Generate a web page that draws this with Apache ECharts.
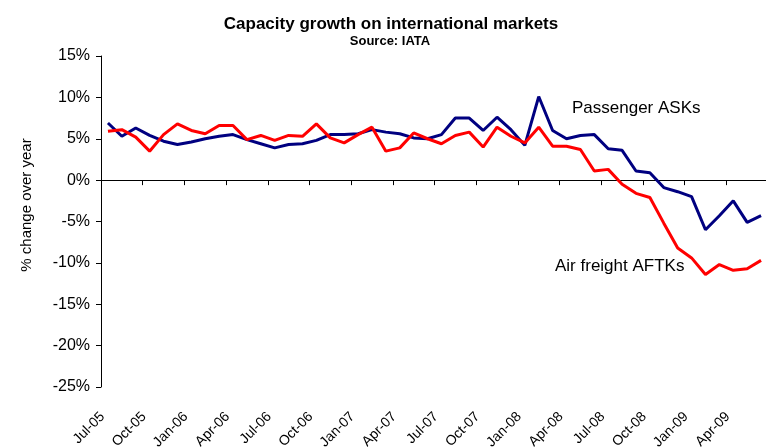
<!DOCTYPE html>
<html>
<head>
<meta charset="utf-8">
<script src="https://cdn.jsdelivr.net/npm/echarts@6/dist/echarts.min.js"></script>
<style>html,body{margin:0;padding:0;background:#fff}#c{width:766px;height:448px}</style>
</head>
<body>
<div id="c"></div>
<script>
var months = ['Jul-05','Aug-05','Sep-05','Oct-05','Nov-05','Dec-05','Jan-06','Feb-06','Mar-06','Apr-06','May-06','Jun-06',
'Jul-06','Aug-06','Sep-06','Oct-06','Nov-06','Dec-06','Jan-07','Feb-07','Mar-07','Apr-07','May-07','Jun-07',
'Jul-07','Aug-07','Sep-07','Oct-07','Nov-07','Dec-07','Jan-08','Feb-08','Mar-08','Apr-08','May-08','Jun-08',
'Jul-08','Aug-08','Sep-08','Oct-08','Nov-08','Dec-08','Jan-09','Feb-09','Mar-09','Apr-09','May-09','Jun-09'];
var passengerASKs = [6.9,5.3,6.3,5.4,4.7,4.3,4.6,5.0,5.3,5.5,4.9,4.4,
3.9,4.3,4.4,4.8,5.5,5.5,5.6,6.1,5.8,5.6,5.1,5.0,
5.5,7.5,7.5,6.0,7.6,6.1,4.2,10.1,6.0,5.0,5.4,5.5,
3.8,3.6,1.1,0.9,-0.9,-1.4,-2.0,-6.0,-4.3,-2.5,-5.1,-4.3];
var airFreightAFTKs = [5.9,6.1,5.2,3.5,5.5,6.8,6.0,5.6,6.6,6.6,4.9,5.4,
4.8,5.4,5.3,6.8,5.1,4.5,5.5,6.4,3.5,3.9,5.7,5.0,
4.4,5.4,5.8,4.0,6.4,5.3,4.5,6.4,4.1,4.1,3.7,1.1,
1.3,-0.5,-1.6,-2.1,-5.2,-8.2,-9.4,-11.4,-10.2,-10.9,-10.7,-9.7];
var yTicks = {min:-25, max:15, interval:5};

var FONT = '"Liberation Sans", Arial, sans-serif';
var chart = echarts.init(document.getElementById('c'), null, {renderer:'canvas'});
chart.setOption({
  animation:false,
  backgroundColor:'#fff',
  title:[
    {text:'Capacity growth on international markets', left:386, top:11, textAlign:'center',
     textStyle:{fontFamily:FONT, fontSize:17, fontWeight:'bold', color:'#000'}},
    {text:'Source: IATA', left:385, top:30, textAlign:'center',
     textStyle:{fontFamily:FONT, fontSize:13, fontWeight:'bold', color:'#000'}}
  ],
  grid:{left:101, right:-2, top:56, bottom:61, containLabel:false, outerBoundsMode:'none'},
  xAxis:[
    {type:'category', data:months, boundaryGap:true, position:'bottom',
     axisLine:{show:false, onZero:false}, axisTick:{show:false},
     axisLabel:{interval:2, rotate:45, margin:22, formatter:function(v){return v + '  ';},
       fontFamily:FONT, fontSize:14, color:'#000'}},
    {type:'category', data:months, boundaryGap:true, position:'bottom',
     axisLine:{show:true, onZero:true, lineStyle:{color:'#000', width:1}},
     axisTick:{show:true, interval:2, length:5, inside:false, lineStyle:{color:'#000'}},
     axisLabel:{show:false}}
  ],
  yAxis:{type:'value', min:yTicks.min, max:yTicks.max, interval:yTicks.interval,
    axisLine:{show:true, lineStyle:{color:'#000', width:1}},
    axisTick:{show:true, length:5, lineStyle:{color:'#000'}},
    axisLabel:{margin:11, formatter:'{value}%', fontFamily:FONT, fontSize:16, color:'#000'},
    splitLine:{show:false}},
  series:[
    {name:'Passenger ASKs', type:'line', data:passengerASKs, xAxisIndex:0, symbol:'none',
     lineStyle:{color:'#000080', width:3}, itemStyle:{color:'#000080'}},
    {name:'Air freight AFTKs', type:'line', data:airFreightAFTKs, xAxisIndex:0, symbol:'none',
     lineStyle:{color:'#ff0000', width:3}, itemStyle:{color:'#ff0000'}}
  ],
  graphic:[
    {type:'text', x:27, y:205, rotation:Math.PI/2,
     style:{text:'% change over year', fontFamily:FONT, fontSize:15, fill:'#000', align:'center', verticalAlign:'middle'}},
    {type:'text', left:572, top:100, style:{text:'Passenger ASKs', fontFamily:FONT, fontSize:17, fill:'#000'}},
    {type:'text', left:555, top:258, style:{text:'Air freight AFTKs', fontFamily:FONT, fontSize:17, fill:'#000'}}
  ]
});
</script>
</body>
</html>
